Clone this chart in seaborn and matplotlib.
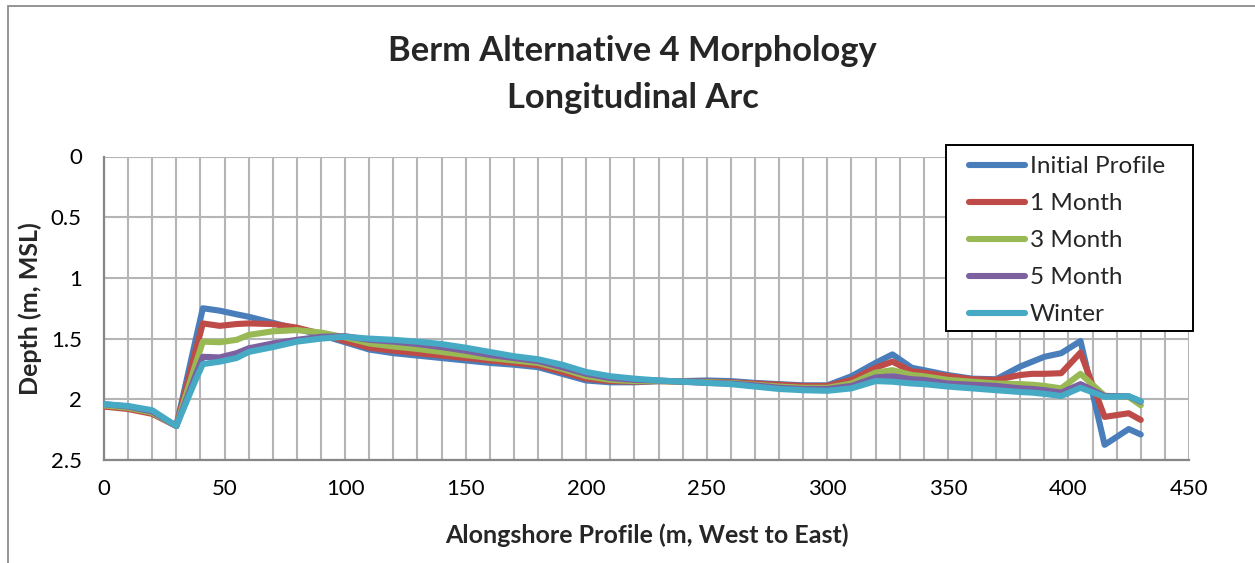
import numpy as np
import pandas as pd
import matplotlib
matplotlib.use("Agg")
import matplotlib.pyplot as plt
from matplotlib.ticker import MultipleLocator
from matplotlib.patches import Rectangle
from matplotlib.lines import Line2D
import seaborn as sns

# Alongshore station positions (m, west to east)
distance = [0, 10, 20, 30, 38, 41, 48, 55, 60, 70, 80, 90, 100, 110, 120, 130,
            140, 150, 160, 170, 180, 190, 200, 210, 220, 230, 240, 250, 260,
            270, 280, 290, 300, 310, 320, 327, 335, 340, 350, 360, 370, 380,
            385, 390, 397, 405, 415, 425, 430]

# Bed depth below MSL (m) for each survey
initial_profile = [2.05, 2.07, 2.11, 2.22, 1.51, 1.25, 1.27, 1.30, 1.32, 1.37,
                   1.42, 1.47, 1.53, 1.59, 1.62, 1.64, 1.66, 1.68, 1.70, 1.715,
                   1.735, 1.79, 1.845, 1.86, 1.86, 1.85, 1.85, 1.845, 1.85,
                   1.865, 1.875, 1.885, 1.885, 1.81, 1.70, 1.63, 1.74, 1.76,
                   1.80, 1.83, 1.835, 1.73, 1.69, 1.65, 1.62, 1.52, 2.375,
                   2.245, 2.29]
month_1 = [2.06, 2.08, 2.12, 2.22, 1.60, 1.375, 1.395, 1.38, 1.375, 1.38,
           1.41, 1.46, 1.52, 1.575, 1.60, 1.62, 1.64, 1.66, 1.68, 1.70, 1.72,
           1.775, 1.83, 1.85, 1.855, 1.85, 1.855, 1.855, 1.86, 1.87, 1.88,
           1.89, 1.89, 1.84, 1.74, 1.69, 1.77, 1.78, 1.81, 1.835, 1.84, 1.80,
           1.79, 1.79, 1.785, 1.615, 2.145, 2.115, 2.17]
month_3 = [2.05, 2.07, 2.11, 2.22, 1.71, 1.525, 1.53, 1.51, 1.47, 1.44, 1.43,
           1.45, 1.49, 1.54, 1.565, 1.585, 1.61, 1.635, 1.66, 1.68, 1.70,
           1.75, 1.81, 1.84, 1.85, 1.85, 1.855, 1.86, 1.865, 1.88, 1.895,
           1.905, 1.905, 1.87, 1.78, 1.76, 1.80, 1.81, 1.84, 1.855, 1.87,
           1.875, 1.88, 1.89, 1.91, 1.79, 1.97, 1.98, 2.05]
month_5 = [2.04, 2.06, 2.10, 2.22, 1.80, 1.65, 1.655, 1.62, 1.58, 1.54, 1.51,
           1.485, 1.48, 1.51, 1.525, 1.545, 1.57, 1.60, 1.635, 1.66, 1.685,
           1.735, 1.79, 1.825, 1.84, 1.845, 1.855, 1.865, 1.87, 1.885, 1.905,
           1.915, 1.915, 1.89, 1.82, 1.81, 1.835, 1.84, 1.87, 1.88, 1.89,
           1.91, 1.915, 1.925, 1.945, 1.875, 1.973, 1.975, 2.02]
winter = [2.04, 2.055, 2.09, 2.22, 1.84, 1.71, 1.69, 1.66, 1.61, 1.57, 1.525,
          1.50, 1.485, 1.50, 1.51, 1.525, 1.545, 1.575, 1.61, 1.645, 1.67,
          1.715, 1.775, 1.81, 1.83, 1.845, 1.855, 1.865, 1.875, 1.895, 1.915,
          1.925, 1.93, 1.91, 1.85, 1.855, 1.87, 1.875, 1.895, 1.91, 1.925,
          1.94, 1.945, 1.955, 1.973, 1.905, 1.98, 1.975, 2.015]

series_names = ["Initial Profile", "1 Month", "3 Month", "5 Month", "Winter"]
series_values = [initial_profile, month_1, month_3, month_5, winter]
series_colors = ["#4A7EBB", "#BE4B48", "#98B954", "#7D60A0", "#46AAC5"]

x_ticks = [0, 50, 100, 150, 200, 250, 300, 350, 400, 450]
y_ticks = [0, 0.5, 1, 1.5, 2, 2.5]
y_tick_labels = ["0", "0.5", "1", "1.5", "2", "2.5"]

title_text = "Berm Alternative 4 Morphology\nLongitudinal Arc"
x_label = "Alongshore Profile (m, West to East)"
y_label = "Depth (m, MSL)"

frames = []
for name, vals in zip(series_names, series_values):
    frames.append(pd.DataFrame({"distance": distance, "depth": vals, "survey": name}))
df = pd.concat(frames, ignore_index=True)

sns.set_style("white")
plt.rcParams["font.family"] = ["Lato", "DejaVu Sans"]

W, H = 1255, 563
fig = plt.figure(figsize=(W / 100, H / 100), dpi=100)
ax = fig.add_axes([104 / W, 1 - 460 / H, (1189 - 104) / W, (460 - 156.5) / H])

grid_c = "#B5B5B5"
axis_c = "#878787"
lw = 4.4

sns.lineplot(data=df, x="distance", y="depth", hue="survey",
             hue_order=series_names, palette=series_colors, linewidth=lw,
             sort=False, estimator=None, legend=False, ax=ax, zorder=3)

ax.set_xlim(x_ticks[0], x_ticks[-1])
ax.set_ylim(y_ticks[-1], y_ticks[0])
ax.set_xticks(x_ticks)
ax.set_yticks(y_ticks)
ax.set_yticklabels(y_tick_labels)
ax.xaxis.set_minor_locator(MultipleLocator(10))
ax.grid(True, which="both", axis="x", color=grid_c, linewidth=1.5, zorder=0)
ax.grid(True, which="major", axis="y", color=grid_c, linewidth=1.5, zorder=0)
ax.set_axisbelow(True)

for side in ["top", "right"]:
    ax.spines[side].set_visible(False)
for side in ["left", "bottom"]:
    ax.spines[side].set_color(axis_c)
    ax.spines[side].set_linewidth(1.6)

ax.tick_params(axis="both", which="major", length=6, width=1.6, color=axis_c,
               labelsize=16, labelcolor="black", direction="out")
ax.tick_params(axis="x", which="major", pad=8)
ax.tick_params(axis="y", which="major", pad=10)
ax.tick_params(axis="x", which="minor", length=0)

ax.set_xlabel(x_label, fontsize=18, fontweight="bold", labelpad=17)
ax.set_ylabel(y_label, fontsize=18, fontweight="bold", labelpad=6)

fig.text(0.504, 1 - 74.5 / H, title_text, ha="center", va="center",
         fontsize=24.8, fontweight="bold", linespacing=1.58)

# legend: entries placed without a frame, box drawn separately
handles = [Line2D([], [], color=c, linewidth=lw, solid_capstyle="round")
           for c in series_colors]
leg = fig.legend(handles, series_names, loc="upper left",
                 bbox_to_anchor=(969 / W, 1 - 156 / H), frameon=False,
                 fontsize=17.5, handlelength=2.3, handletextpad=0.2,
                 labelspacing=0.66, borderpad=0, borderaxespad=0)
fig.patches.append(Rectangle((946 / W, 1 - 331 / H), (1193 - 946) / W,
                             (331 - 145) / H, transform=fig.transFigure,
                             facecolor="white", edgecolor="black",
                             linewidth=1.4, zorder=4))
leg.set_zorder(5)

# outer chart frame
fig.patches.append(Rectangle((8 / W, -0.05), 1.0, 1 - 6 / H + 0.05,
                             transform=fig.transFigure, fill=False,
                             edgecolor="#8C8C8C", linewidth=1.3))

fig.savefig("out.png", dpi=100)
